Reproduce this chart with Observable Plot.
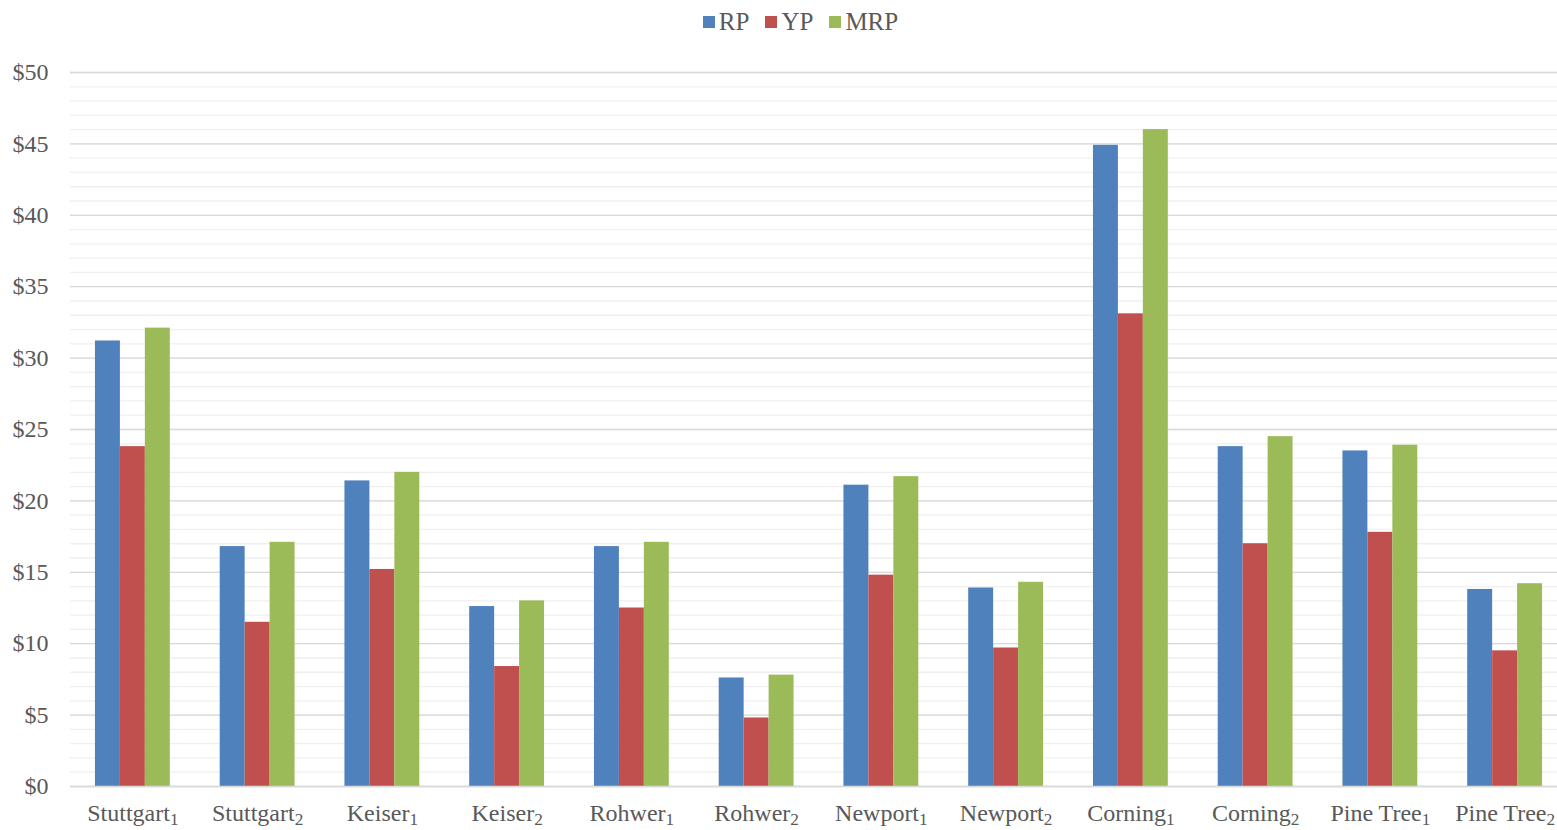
<!DOCTYPE html>
<html>
<head>
<meta charset="utf-8">
<script src="https://cdn.jsdelivr.net/npm/d3@7"></script>
<script src="https://cdn.jsdelivr.net/npm/@observablehq/plot@0.6"></script>
<style>
  html, body { margin: 0; padding: 0; background: #fff; overflow: hidden; }
  #legend { width: 1557px; height: 44px; display: flex; justify-content: center; align-items: center; gap: 16px;
    font-family: "Liberation Serif", "Times New Roman", serif; font-size: 25px; color: #595959; padding-left: 44px; box-sizing: border-box; }
  #legend .item { display: flex; align-items: center; gap: 4px; }
  #legend .sw { width: 12px; height: 12px; display: inline-block; }
  #chart svg { max-width: none !important; overflow: visible !important; display: block; }
</style>
</head>
<body>
<div id="legend"></div>
<div id="chart"></div>
<script>
const categories = ["Stuttgart₁","Stuttgart₂","Keiser₁","Keiser₂","Rohwer₁","Rohwer₂","Newport₁","Newport₂","Corning₁","Corning₂","Pine Tree₁","Pine Tree₂"];
const seriesNames = ["RP","YP","MRP"];
const seriesColors = ["#4F81BD","#C0504D","#9BBB59"];
const rp  = [31.2, 16.8, 21.4, 12.6, 16.8, 7.6, 21.1, 13.9, 44.9, 23.8, 23.5, 13.8];
const yp  = [23.8, 11.5, 15.2,  8.4, 12.5, 4.8, 14.8,  9.7, 33.1, 17.0, 17.8,  9.5];
const mrp = [32.1, 17.1, 22.0, 13.0, 17.1, 7.8, 21.7, 14.3, 46.0, 24.5, 23.9, 14.2];
const yTicks = [0,5,10,15,20,25,30,35,40,45,50];

const values = [rp, yp, mrp];
const data = [];
categories.forEach((c, i) => {
  seriesNames.forEach((s, j) => data.push({category: c, series: s, value: values[j][i]}));
});

const legend = document.getElementById("legend");
seriesNames.forEach((s, j) => {
  const it = document.createElement("span");
  it.className = "item";
  it.innerHTML = `<span class="sw" style="background:${seriesColors[j]}"></span><span>${s}</span>`;
  legend.appendChild(it);
});

const W = 1567, mL = 70, mR = 0;
const padIn = 0.4, padOut = 0.2;
// width of one series bar inside a category band
const step = (W - mL - mR) / (categories.length - padIn + 2 * padOut);
const third = step * (1 - padIn) / 3;

const barMarks = seriesNames.map((s, j) =>
  Plot.barY(data.filter(d => d.series === s), {
    x: "category", y: "value", fill: seriesColors[j],
    insetLeft: j * third, insetRight: (2 - j) * third
  })
);

const chart = Plot.plot({
  width: W,
  height: 786,
  marginTop: 28,
  marginBottom: 44,
  marginLeft: mL,
  marginRight: mR,
  style: {fontFamily: "'Liberation Serif', 'Times New Roman', serif", color: "#595959", background: "#fff", maxWidth: "none", overflow: "visible"},
  x: {domain: categories, paddingInner: padIn, paddingOuter: padOut, round: false, label: null},
  y: {domain: [0, 50], label: null},
  marks: [
    Plot.ruleY(d3.range(0, 51, 1), {stroke: "#efefef", strokeWidth: 1.3}),
    Plot.ruleY(yTicks, {stroke: "#d9d9d9", strokeWidth: 1.3}),
    ...barMarks,
    Plot.axisY(yTicks, {tickSize: 0, tickPadding: 22, tickFormat: d => "$" + d, fontSize: 24, label: null}),
    Plot.axisX({tickSize: 0, tickPadding: 17, fontSize: 24, label: null}),
    Plot.ruleY([0], {stroke: "#d9d9d9", strokeWidth: 1.5})
  ]
});

// render subscript digits as real subscripts
const subMap = {"₁": "1", "₂": "2"};
d3.select(chart).selectAll("text").each(function() {
  const t = this.textContent;
  const m = t.match(/^(.*?)([₁₂])$/);
  if (m) {
    const el = d3.select(this);
    el.text(m[1]);
    el.append("tspan").attr("font-size", "0.72em").attr("dy", "0.25em").text(subMap[m[2]]);
  }
});
document.getElementById("chart").appendChild(chart);
</script>
</body>
</html>
